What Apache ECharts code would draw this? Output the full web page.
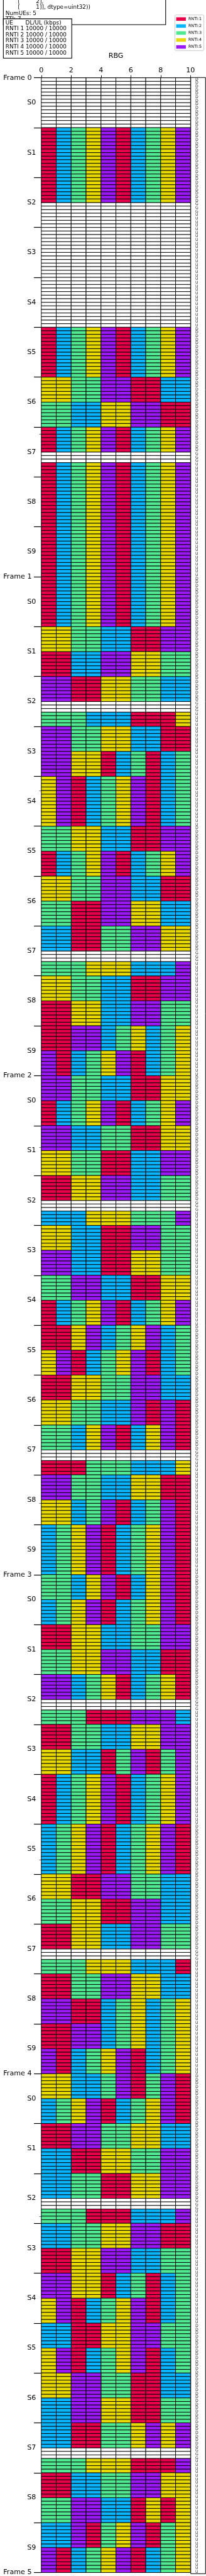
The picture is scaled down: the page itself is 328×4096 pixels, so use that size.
<!DOCTYPE html>
<html><head><meta charset="utf-8">
<style>html,body{margin:0;padding:0;background:#fff}#c{width:328px;height:4096px}</style>
<script src="https://cdn.jsdelivr.net/npm/echarts@6/dist/echarts.min.js"></script>
</head><body><div id="c"></div>
<script>
// ---- data ----
const rntiNames = ['RNTI:1','RNTI:2','RNTI:3','RNTI:4','RNTI:5'];
const rntiColors = ['#e60049','#0bb4ff','#50e991','#e6d800','#9b19f5'];
const frameLabels = ['Frame 0','Frame 1','Frame 2','Frame 3','Frame 4','Frame 5'];
const slotNames = ['S0','S1','S2','S3','S4','S5','S6','S7','S8','S9'];
const rbgTicks = [0,2,4,6,8,10];
// run lengths (symbols) and the RNTI owning each of the ten RBGs; 0 = unallocated
const blockRows = [14,21,35,14,7,7,7,3,46,7,7,7,3,4,7,7,14,7,7,7,7,7,3,4,7,7,7,7,7,7,7,7,7,3,4,7,7,7,7,7,7,7,7,7,3,4,7,7,14,7,7,7,7,7,3,4,7,7,14,14,7,7,7,3,4,7,7,7,7,7,7,7,7,7,3,4,7,7,7,7,7,7,7,7,7,3,4,7,7,7,7];
const blockRnti = ['0000000000','1234512345','0000000000','1234512345','4433551122','3322445511','1234512345','0000000000','1234512345','4433221155','1122554433','5511443322','0000000000','3332221114','5533442211','5544123123','4512345123','3344221155','1234512345','4433552211','3311554422','2211335544','0000000000','3334442225','4433221155','1144225533','1155234234','5123451234','5533221144','1234512345','5522331144','4433112255','1144552233','0000000000','2224443335','4422115533','5522114433','3355221144','1234512345','1145234523','4512345123','1144335522','4433225151','3324512451','0000000000','1113332224','5533224411','4423512351','2345123451','3324512451','2345123451','1144223355','3344552211','5523412341','0000000000','3331115552','1133224455','4422135135','1234512345','2345123451','4411553322','3344115522','1144225533','0000000000','3334442221','1133554422','5511234234','1155234234','5123451234','4422351351','2345123451','1155334422','2211443355','2233114455','0000000000','3331112225','2233445511','1144552233','5544123123','4512345123','2211445533','4512345123','4455331122','2255441133','2211334545','0000000000','3334441115','1122335544','3355221414','2251345134','5123451234'];
// symbol direction per 70-symbol period
const dirLetters = ['D','G','U'];
const dirCounts = [35,3,32];
const periods = 10;
const statLines = ['       [         2],','       [         1]], dtype=uint32))','NumUEs: 5','TTI: 7'];
const ueLines = ['UE       DL/UL (kbps)','RNTI 1 10000 / 10000','RNTI 2 10000 / 10000','RNTI 3 10000 / 10000','RNTI 4 10000 / 10000','RNTI 5 10000 / 10000'];

// ---- layout ----
const S = 4096/5000, F = 'DejaVu Sans';
const totalRows = blockRows.reduce((a,b)=>a+b,0);
const cells = [[],[],[],[],[],[]];
let row = 0;
blockRows.forEach((n,b)=>{
  for(let i=0;i<n;i++,row++){
    for(let c=0;c<10;c++) cells[+blockRnti[b][c]].push([c,row]);
  }
});
const symbolDirs = [];
for(let p=0;p<periods;p++) dirLetters.forEach((l,i)=>{for(let k=0;k<dirCounts[i];k++) symbolDirs.push(l);});
const slotCenters = [];
for(let i=0;i<slotNames.length*(frameLabels.length-1);i++) slotCenters.push(i*14+7);

function render(fill){
  return function(params,api){
    const a = api.coord([api.value(0),api.value(1)]);
    const b = api.coord([api.value(0)+1,api.value(1)+1]);
    return {type:'rect',shape:{x:a[0],y:a[1],width:b[0]-a[0],height:b[1]-a[1]},
      style:{fill:fill,stroke:'#000',lineWidth:0.9}};
  };
}
const series = [{type:'custom',name:'blank',data:cells[0],renderItem:render('#fff'),encode:{x:0,y:1},progressive:0,animation:false,silent:true}];
rntiNames.forEach((n,i)=>series.push({type:'custom',name:n,data:cells[i+1],renderItem:render(rntiColors[i]),
  itemStyle:{color:rntiColors[i]},encode:{x:0,y:1},progressive:0,animation:false,silent:true}));

const graphics = [];
const rect=(x,y,w,h,z)=>({type:'rect',z:z,shape:{x:x*S,y:y*S,width:w*S,height:h*S},style:{fill:'#fff',stroke:'#000',lineWidth:1.1}});
const txt=(x,y,t,z)=>({type:'text',z:z,x:x*S,y:y*S,style:{text:t,font:(10.85*S)+'px "'+F+'"',fill:'#000',textVerticalAlign:'middle',verticalAlign:'middle'}});
graphics.push(rect(6.5,-20,315.5,68,10));
const statY=[3.3,14.3,26,37.5];
statLines.forEach((t,i)=>graphics.push(txt(10.7,statY[i],t,11)));
graphics.push(rect(6.5,36.5,133,76.5,20));
const ueY=[45.3,56.3,68,79,91,103];
ueLines.forEach((t,i)=>graphics.push(txt(10.7,ueY[i],t,21)));

const chart = echarts.init(document.getElementById('c'),null,{renderer:'canvas'});
const axisFont = {fontFamily:F,fontSize:13.6*S,color:'#000'};
chart.setOption({
  animation:false,
  textStyle:{fontFamily:F},
  grid:[
    {left:80.3*S,top:151*S,width:290*S,height:4844*S,containLabel:false},
    {left:370.8*S,top:150.5*S,width:28.7*S,height:4845*S,show:true,borderColor:'#000',borderWidth:1,backgroundColor:'#fff',containLabel:false}
  ],
  legend:{orient:'vertical',left:340*S,top:29*S,padding:[3.5,3.5,3,2],itemWidth:15.4,itemHeight:5.6,itemGap:5.1,
    backgroundColor:'#fff',borderColor:'#ccc',borderWidth:1,borderRadius:2,
    data:rntiNames.map(n=>({name:n,icon:'rect'})),
    textStyle:{fontFamily:F,fontSize:7.8*S,color:'#000',padding:[0,0,0,-1]}},
  xAxis:[
    {type:'value',gridIndex:0,position:'top',min:0,max:10,interval:2,
      name:'RBG',nameLocation:'middle',nameGap:35*S,nameTextStyle:axisFont,
      axisLine:{show:true,onZero:false,lineStyle:{color:'#000',width:1.1}},
      axisTick:{show:true,length:5*S,lineStyle:{color:'#000',width:0.9}},
      axisLabel:{...axisFont,margin:6,formatter:v=>String(rbgTicks[v/2])},splitLine:{show:false}},
    {type:'value',gridIndex:1,show:false,min:0,max:1}
  ],
  yAxis:[
    {type:'value',gridIndex:0,position:'left',inverse:true,min:0,max:totalRows,interval:14,
      axisLine:{show:true,onZero:false,lineStyle:{color:'#000',width:1}},
      axisTick:{show:true,length:14.3*S,lineStyle:{color:'#000',width:1.2}},
      axisLabel:{...axisFont,margin:18.6*S,showMinLabel:true,showMaxLabel:true,hideOverlap:false,formatter:v=>v%140===0?frameLabels[v/140]:''},splitLine:{show:false}},
    {type:'value',gridIndex:0,position:'left',inverse:true,min:0,max:totalRows,
      axisLine:{show:false},axisTick:{show:false},splitLine:{show:false},
      axisLabel:{...axisFont,margin:10.3*S,customValues:slotCenters,hideOverlap:false,formatter:v=>slotNames[((v-7)/14)%10]}},
    {type:'value',gridIndex:0,position:'left',inverse:true,min:0,max:totalRows,interval:100,
      axisLine:{show:false},axisLabel:{show:false},splitLine:{show:false},
      axisTick:{show:true,length:4*S,lineStyle:{color:'#000',width:0.6}}},
    {type:'category',gridIndex:1,inverse:true,data:symbolDirs,position:'left',
      axisLine:{show:false},axisTick:{show:false},splitLine:{show:false},
      axisLabel:{inside:true,interval:0,hideOverlap:false,margin:8.7*S,fontFamily:F,fontSize:7.6*S,color:'#222'}}
  ],
  graphic:graphics,
  series:series
});
</script></body></html>
